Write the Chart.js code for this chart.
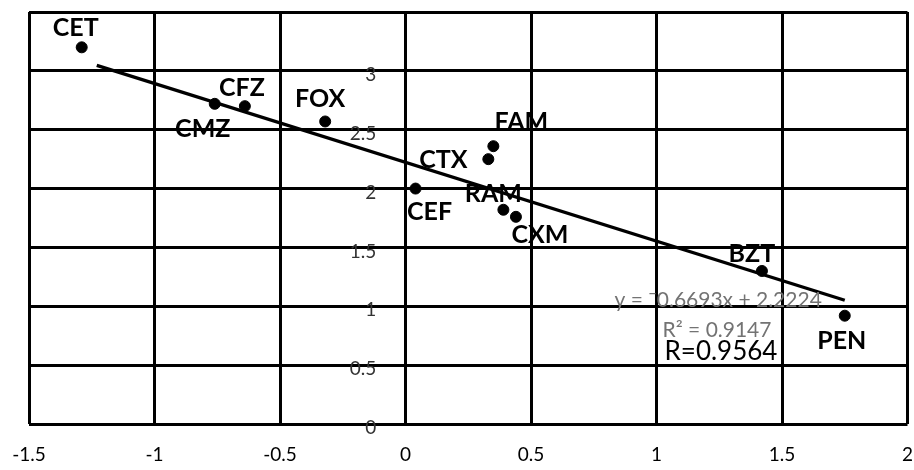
<!DOCTYPE html>
<html>
<head>
<meta charset="utf-8">
<script src="https://cdn.jsdelivr.net/npm/chart.js@4.4.1/dist/chart.umd.min.js"></script>
<style>
    html, body { margin: 0; padding: 0; background: #fff; }
    #wrap { width: 914px; height: 470px; }
</style>
</head>
<body>
<div id="wrap"><canvas id="scatter"></canvas></div>
<script>
// values
const names = ['CET', 'CMZ', 'CFZ', 'FOX', 'CEF', 'CTX', 'FAM', 'RAM', 'CXM', 'BZT', 'PEN'];
const xValues = [-1.29, -0.76, -0.64, -0.32, 0.04, 0.33, 0.35, 0.39, 0.44, 1.42, 1.75];
const yValues = [3.20, 2.72, 2.70, 2.57, 2.00, 2.25, 2.36, 1.82, 1.76, 1.30, 0.92];

// trendline ends as drawn (y = -0.6693x + 2.2224)
const trendX = [-1.23, 1.75];
const trendY = [3.047, 1.051];

const xTicks = [-1.5, -1, -0.5, 0, 0.5, 1, 1.5, 2];
const yTicks = [0, 0.5, 1, 1.5, 2, 2.5, 3];

const eqText = 'y = \u00af0.6693x + 2.2224';
const r2Text = 'R\u00b2 = 0.9147';
const rText = 'R=0.9564';

// label offsets from each dot, px (style only)
const labelOffsets = {
    CET: [-6, -20], CMZ: [-12, 24], CFZ: [-3, -19], FOX: [-5, -23],
    CEF: [14, 22], CTX: [-45, 0], FAM: [28, -25], RAM: [-10, -17],
    CXM: [24, 17], BZT: [-10, -18], PEN: [-3, 24]
};

Chart.defaults.font.family = 'Lato, "Open Sans", sans-serif';

const labelPlugin = {
    id: 'pointNames',
    beforeDatasetsDraw(chart) {
        const ctx = chart.ctx;
        const meta = chart.getDatasetMeta(0);
        ctx.save();
        ctx.font = 'bold 25px Lato';
        ctx.fillStyle = '#000';
        ctx.textAlign = 'center';
        ctx.textBaseline = 'alphabetic';
        meta.data.forEach(function (pt, i) {
            const off = labelOffsets[names[i]] || [0, -20];
            ctx.fillText(names[i], pt.x + off[0], pt.y + off[1] + 9);
        });
        ctx.restore();
    },
    afterDatasetsDraw(chart) {
        const ctx = chart.ctx;
        const xs = chart.scales.x;
        const ys = chart.scales.y;
        ctx.save();
        ctx.textAlign = 'left';
        ctx.textBaseline = 'alphabetic';
        ctx.fillStyle = '#737373';
        ctx.font = '21px Lato';
        ctx.fillText(eqText, xs.getPixelForValue(0.833), ys.getPixelForValue(0.991));
        ctx.fillText(r2Text, xs.getPixelForValue(1.024), ys.getPixelForValue(0.738));
        ctx.fillStyle = '#000';
        ctx.font = '26px Lato';
        ctx.fillText(rText, xs.getPixelForValue(1.032), ys.getPixelForValue(0.540));
        ctx.restore();
    }
};

function noPadding(scale) {
    scale.paddingLeft = 0;
    scale.paddingRight = 0;
    scale.paddingTop = 0;
    scale.paddingBottom = 0;
}

new Chart(document.getElementById('scatter'), {
    type: 'scatter',
    data: {
        datasets: [
            {
                label: 'points',
                data: xValues.map(function (x, i) { return { x: x, y: yValues[i] }; }),
                backgroundColor: '#000',
                borderColor: '#000',
                pointRadius: 5.5,
                pointHoverRadius: 5.5
            },
            {
                label: 'trend',
                type: 'line',
                data: trendX.map(function (x, i) { return { x: x, y: trendY[i] }; }),
                borderColor: '#000',
                borderWidth: 3.3,
                pointRadius: 0,
                fill: false,
                tension: 0
            }
        ]
    },
    options: {
        responsive: true,
        maintainAspectRatio: false,
        animation: false,
        layout: { padding: { left: 29, right: 6, top: 12, bottom: 2 } },
        plugins: {
            legend: { display: false },
            tooltip: { enabled: false }
        },
        scales: {
            x: {
                type: 'linear',
                position: 'bottom',
                min: -1.5,
                max: 2,
                afterBuildTicks: function (scale) {
                    scale.ticks = xTicks.map(function (v) { return { value: v }; });
                },
                afterFit: function (scale) {
                    scale.height = 44;
                    noPadding(scale);
                },
                grid: { color: '#000', lineWidth: 3, drawTicks: false },
                border: { display: false },
                ticks: {
                    color: '#000',
                    font: { size: 19 },
                    padding: 19,
                    callback: function (v) { return String(v); }
                }
            },
            y: {
                type: 'linear',
                position: { x: 0 },
                min: 0,
                max: 3.5,
                afterBuildTicks: function (scale) {
                    scale.ticks = yTicks.concat([3.5]).map(function (v) { return { value: v }; });
                },
                afterFit: noPadding,
                grid: { color: '#000', lineWidth: 3, drawTicks: false },
                border: { display: false },
                ticks: {
                    color: '#333',
                    font: { size: 19 },
                    labelOffset: 4,
                    // labels sit right-aligned on the x=0 axis; trailing spaces keep the gap
                    callback: function (v) { return yTicks.indexOf(v) >= 0 ? String(v) + '      ' : ''; }
                }
            }
        }
    },
    plugins: [labelPlugin]
});
</script>
</body>
</html>
